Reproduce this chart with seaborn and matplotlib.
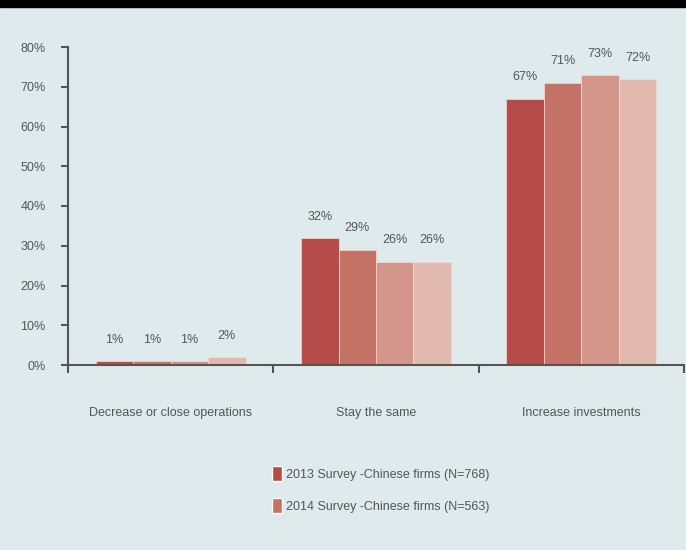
import matplotlib
matplotlib.use("Agg")
import matplotlib.pyplot as plt
from matplotlib.patches import Patch, Rectangle
import seaborn as sns
import numpy as np
import pandas as pd

# Data
categories = ["Decrease or close operations", "Stay the same", "Increase investments"]
series_names = ["2013 Survey -Chinese firms (N=768)",
                "2014 Survey -Chinese firms (N=563)",
                "Series 3", "Series 4"]
s2013 = [1, 32, 67]
s2014 = [1, 29, 71]
s3 = [1, 26, 73]
s4 = [2, 26, 72]
colors = ["#b54c4a", "#c47265", "#d4968b", "#e2b9af"]

rows = []
for name, vals in zip(series_names, [s2013, s2014, s3, s4]):
    for c, v in zip(categories, vals):
        rows.append({"category": c, "series": name, "value": v})
df = pd.DataFrame(rows)

sns.set_style("white")
plt.rcParams["font.family"] = ["Liberation Sans", "DejaVu Sans"]
text_color = "#555555"
bg = "#dfeaec"

fig = plt.figure(figsize=(6.86, 5.5), dpi=100, facecolor=bg)
ax = fig.add_axes([68 / 686, 1 - 365 / 550, 616 / 686, 318 / 550])
ax.set_facecolor(bg)

# black band on top
fig.patches.append(Rectangle((0, 1 - 7 / 550), 1, 7 / 550, transform=fig.transFigure,
                             color="black", zorder=10))

sns.barplot(data=df, x="category", y="value", hue="series", palette=colors,
            width=0.73, ax=ax, legend=False, edgecolor="#f2dcd6", linewidth=0.5,
            saturation=1)

for cont in ax.containers:
    ax.bar_label(cont, fmt="%d%%", padding=11, fontsize=9, color=text_color)

ax.set_ylim(0, 80)
ax.set_xlim(-0.5, 2.5)
ax.set_yticks(np.arange(0, 81, 10))
ax.set_yticklabels([f"{t}%" for t in range(0, 81, 10)], fontsize=9, color=text_color)
ax.set_xticks([-0.5, 0.5, 1.5, 2.5])
ax.set_xticklabels(["", "", "", ""])
ax.set_xticks([0, 1, 2], minor=True)
ax.set_xticklabels(categories, minor=True, fontsize=9, color=text_color)
ax.tick_params(axis="x", which="minor", length=0, pad=30, bottom=True)
ax.tick_params(axis="x", which="major", length=6, width=1.5, color=text_color,
               direction="out", bottom=True)
ax.tick_params(axis="y", length=5, width=1.5, color=text_color, pad=11,
               direction="out", left=True)
ax.set_xlabel("")
ax.set_ylabel("")
for s in ["top", "right"]:
    ax.spines[s].set_visible(False)
for s in ["left", "bottom"]:
    ax.spines[s].set_color(text_color)
    ax.spines[s].set_linewidth(1.5)

handles = [Patch(facecolor=colors[i], label=series_names[i]) for i in range(2)]
fig.legend(handles=handles, loc="upper left", bbox_to_anchor=(261 / 686, 1 - 455 / 550),
           frameon=False, fontsize=9, labelcolor=text_color, handlelength=0.8,
           handleheight=1.4, handletextpad=0.3, labelspacing=1.4)

fig.savefig("out.png", dpi=100, facecolor=bg)
